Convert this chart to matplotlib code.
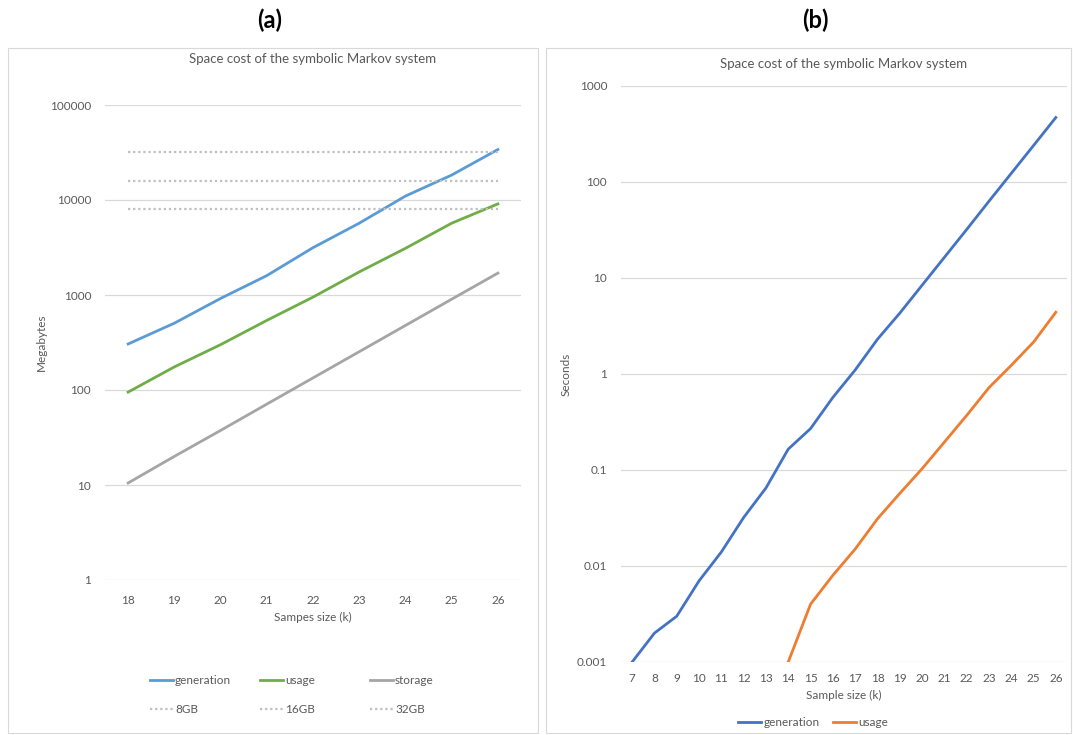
import matplotlib.pyplot as plt
from matplotlib.patches import Rectangle
import numpy as np

plt.rcParams['font.family'] = ['Lato', 'DejaVu Sans']

# panel (a) data: space cost in megabytes
sizes_a = [18, 19, 20, 21, 22, 23, 24, 25, 26]
gen_mb = [305, 505, 920, 1600, 3150, 5700, 11000, 18300, 34000]
usage_mb = [95, 175, 300, 540, 950, 1750, 3100, 5700, 9100]
storage_mb = [10.5, 20, 37.5, 71, 134, 253, 478, 903, 1700]
mem_limits = [8000, 16000, 32000]
mem_labels = ["8GB", "16GB", "32GB"]

# panel (b) data: time in seconds
sizes_b = list(range(7, 27))
gen_s = [0.001, 0.002, 0.003, 0.007, 0.014, 0.032, 0.065, 0.165, 0.27, 0.57,
         1.1, 2.3, 4.3, 8.4, 16.4, 32, 63, 123, 240, 470]
sizes_b_usage = list(range(14, 27))
usage_s = [0.001, 0.004, 0.008, 0.015, 0.031, 0.057, 0.103, 0.195, 0.37,
           0.72, 1.23, 2.15, 4.4]

txt = '#595959'
grid = '#D9D9D9'

fig = plt.figure(figsize=(10.73, 7.35), dpi=100)

# panel frames
for x0, w in [(8, 530), (546, 525)]:
    fig.patches.append(Rectangle((x0 / 1073, 2 / 735), w / 1073, 685 / 735,
                                 transform=fig.transFigure, fill=False,
                                 edgecolor=grid, lw=0.8))

fig.text(270 / 1073, 1 - 20 / 735, "(a)", ha='center', va='center',
         fontsize=17, fontweight='bold', color='black')
fig.text(815 / 1073, 1 - 20 / 735, "(b)", ha='center', va='center',
         fontsize=17, fontweight='bold', color='black')


def style(ax):
    ax.set_yscale('log')
    for s in ax.spines.values():
        s.set_visible(False)
    ax.grid(axis='y', which='major', color=grid, lw=0.9)
    ax.tick_params(length=0, colors=txt, labelsize=8.5)
    ax.tick_params(axis='y', pad=10)
    ax.yaxis.set_major_formatter(plt.FuncFormatter(lambda v, p: f"{v:g}"))
    ax.minorticks_off()
    ax.set_axisbelow(True)


# ---- panel (a)
ax1 = fig.add_axes([105 / 1073, 155 / 735, 416 / 1073, 475 / 735])
style(ax1)
ax1.set_ylim(1, 100000)
ax1.set_yticks([1, 10, 100, 1000, 10000, 100000])
ax1.set_xlim(17.5, 26.5)
ax1.set_xticks(sizes_a)
h_gen, = ax1.plot(sizes_a, gen_mb, color='#5B9BD5', lw=2, label='generation')
h_use, = ax1.plot(sizes_a, usage_mb, color='#70AD47', lw=2, label='usage')
h_sto, = ax1.plot(sizes_a, storage_mb, color='#A5A5A5', lw=2, label='storage')
h_mem = []
for v, lab in zip(mem_limits, mem_labels):
    h, = ax1.plot([sizes_a[0], sizes_a[-1]], [v, v], color='#BFBFBF', lw=1.6,
                  ls=(0, (1, 1.3)), label=lab)
    h_mem.append(h)
ax1.set_title("Space cost of the symbolic Markov system", color=txt,
              fontsize=9.5, pad=30)
ax1.set_xlabel("Sampes size (k)", color=txt, fontsize=8.5, labelpad=4)
ax1.set_ylabel("Megabytes", color=txt, fontsize=8.5, labelpad=2)
ax1.xaxis.set_tick_params(pad=11)

# three legend columns at fixed positions, like Excel
cols = [(h_gen, h_mem[0]), (h_use, h_mem[1]), (h_sto, h_mem[2])]
for x_px, pair in zip([139, 249, 359], cols):
    fig.legend(handles=list(pair), loc='center left', frameon=False,
               bbox_to_anchor=(x_px / 1073, 1 - 695 / 735),
               bbox_transform=fig.transFigure, fontsize=8.5, labelcolor=txt,
               handlelength=1.95, handletextpad=0.2, labelspacing=1.55)

# ---- panel (b)
ax2 = fig.add_axes([621 / 1073, 73 / 735, 446 / 1073, 576 / 735])
style(ax2)
ax2.set_ylim(0.001, 1000)
ax2.set_yticks([0.001, 0.01, 0.1, 1, 10, 100, 1000])
ax2.set_xlim(6.5, 26.5)
ax2.set_xticks(sizes_b)
ax2.plot(sizes_b, gen_s, color='#4472C4', lw=2, label='generation')
ax2.plot(sizes_b_usage, usage_s, color='#ED7D31', lw=2, label='usage')
ax2.set_title("Space cost of the symbolic Markov system", color=txt,
              fontsize=9.5, pad=13)
ax2.set_xlabel("Sample size (k)", color=txt, fontsize=8.5, labelpad=4)
ax2.set_ylabel("Seconds", color=txt, fontsize=8.5, labelpad=4)
ax2.xaxis.set_tick_params(pad=8)
ax2.legend(ncol=2, loc='center', frameon=False,
           bbox_to_anchor=(813 / 1073, 1 - 723 / 735), bbox_transform=fig.transFigure,
           fontsize=8.5, labelcolor=txt, handlelength=1.95, handletextpad=0.2,
           columnspacing=1.1)

fig.savefig('out.png', dpi=100)
